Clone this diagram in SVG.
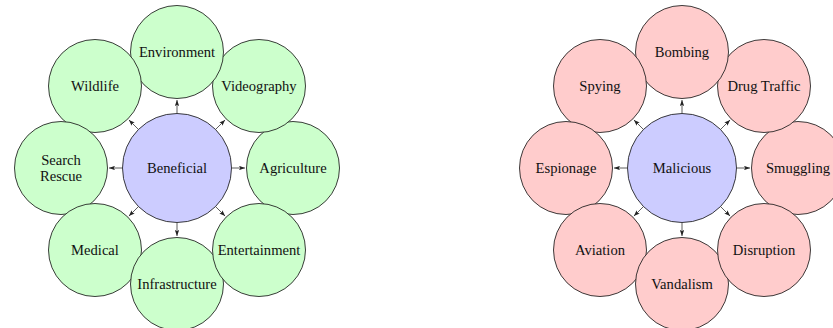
<svg xmlns="http://www.w3.org/2000/svg" width="833" height="328" viewBox="0 0 833 328">
<defs>
<style>
.g{fill:#ccffcc;stroke:#1a1a1a;stroke-width:0.85}
.r{fill:#ffcccc;stroke:#1a1a1a;stroke-width:0.85}
.b{fill:#ccccff;stroke:#1a1a1a;stroke-width:0.85}
text{font-family:"Liberation Serif","Times New Roman",serif;font-size:14.6px;fill:#111;text-anchor:middle}
.e{stroke:#333;stroke-width:0.8;fill:none;marker-end:url(#ah)}
</style>
<marker id="ah" markerUnits="userSpaceOnUse" viewBox="0 0 6 4.4" refX="6" refY="2.2" markerWidth="6" markerHeight="4.4" orient="auto">
<path d="M0,0 L6,2.2 L0,4.4 L1.3,2.2 z" fill="#222"/>
</marker>
</defs>
<rect width="833" height="328" fill="#fff"/>

<!-- Left cluster -->
<g id="agriculture"><circle class="g" cx="293" cy="168" r="46.5"/><text x="293" y="172.5">Agriculture</text></g>
<g id="videography"><circle class="g" cx="259" cy="86" r="46.5"/><text x="259" y="90.5">Videography</text></g>
<g id="environment"><circle class="g" cx="177" cy="52" r="46.5"/><text x="177" y="56.5">Environment</text></g>
<g id="wildlife"><circle class="g" cx="95" cy="86" r="46.5"/><text x="95" y="90.5">Wildlife</text></g>
<g id="search-rescue"><circle class="g" cx="61" cy="168" r="46.5"/><text x="61" y="165">Search</text><text x="61" y="181">Rescue</text></g>
<g id="medical"><circle class="g" cx="95" cy="250" r="46.5"/><text x="95" y="254.5">Medical</text></g>
<g id="infrastructure"><circle class="g" cx="177" cy="284" r="46.5"/><text x="177" y="289">Infrastructure</text></g>
<g id="entertainment"><circle class="g" cx="259" cy="250" r="46.5"/><text x="259" y="254.5">Entertainment</text></g>
<g id="beneficial"><circle class="b" cx="177" cy="168" r="54.5"/><text x="177" y="172.5">Beneficial</text></g>

<!-- Right cluster -->
<g id="smuggling"><circle class="r" cx="798" cy="168" r="46.5"/><text x="798" y="172.5">Smuggling</text></g>
<g id="drug-traffic"><circle class="r" cx="764" cy="86" r="46.5"/><text x="764" y="90.5">Drug Traffic</text></g>
<g id="bombing"><circle class="r" cx="682" cy="52" r="46.5"/><text x="682" y="56.5">Bombing</text></g>
<g id="spying"><circle class="r" cx="600" cy="86" r="46.5"/><text x="600" y="90.5">Spying</text></g>
<g id="espionage"><circle class="r" cx="566" cy="168" r="46.5"/><text x="566" y="172.5">Espionage</text></g>
<g id="aviation"><circle class="r" cx="600" cy="250" r="46.5"/><text x="600" y="254.5">Aviation</text></g>
<g id="vandalism"><circle class="r" cx="682" cy="284" r="46.5"/><text x="682" y="289">Vandalism</text></g>
<g id="disruption"><circle class="r" cx="764" cy="250" r="46.5"/><text x="764" y="254.5">Disruption</text></g>
<g id="malicious"><circle class="b" cx="682" cy="168" r="54.5"/><text x="682" y="172.5">Malicious</text></g>

<g id="connectors">
<path class="e" d="M231.5,168 L245,168"/>
<path class="e" d="M215.5,129.5 L225.1,119.9"/>
<path class="e" d="M177,113.5 L177,100"/>
<path class="e" d="M138.5,129.5 L128.9,119.9"/>
<path class="e" d="M122.5,168 L109,168"/>
<path class="e" d="M138.5,206.5 L128.9,216.1"/>
<path class="e" d="M177,222.5 L177,236"/>
<path class="e" d="M215.5,206.5 L225.1,216.1"/>

<path class="e" d="M736.5,168 L750,168"/>
<path class="e" d="M720.5,129.5 L730.1,119.9"/>
<path class="e" d="M682,113.5 L682,100"/>
<path class="e" d="M643.5,129.5 L633.9,119.9"/>
<path class="e" d="M627.5,168 L614,168"/>
<path class="e" d="M643.5,206.5 L633.9,216.1"/>
<path class="e" d="M682,222.5 L682,236"/>
<path class="e" d="M720.5,206.5 L730.1,216.1"/>
</g>
</svg>
